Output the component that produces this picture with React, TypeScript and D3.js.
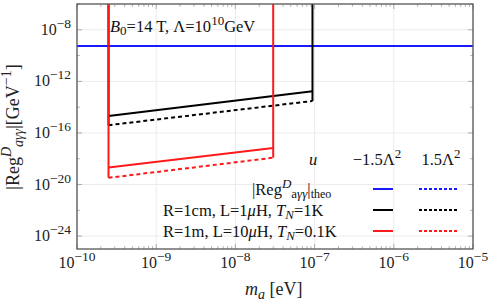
import React from 'react'
import * as d3 from 'd3'

// axion mass range [eV] and bounds for the two circuit setups
const massDomain = [1e-10, 1e-5]
const regDomain = [1e-25, 1e-6]

const xTickExps = [-10, -9, -8, -7, -6, -5]
const yTickExps = [-24, -20, -16, -12, -8]

// theoretical value (flat line)
const theoValue = 5.5e-10

// R=1cm, L=1uH, T_N=1K
const blackMass = [2.5e-10, 9.4e-8]
const blackMinus = [2.1e-15, 1.7e-13]
const blackPlus = [4.0e-16, 3.0e-14]

// R=1m, L=10uH, T_N=0.1K
const redMass = [2.5e-10, 3.0e-8]
const redMinus = [2.1e-19, 6.8e-18]
const redPlus = [3.3e-20, 1.2e-18]

const W = 493
const H = 303
const margin = { top: 4, right: 20, bottom: 54, left: 77 }
const FONT = '"Liberation Serif", "Times New Roman", serif'

export default function App () {
  const x = d3.scaleLog().domain(massDomain).range([margin.left, W - margin.right])
  const y = d3.scaleLog().domain(regDomain).range([H - margin.bottom, margin.top])

  const x0 = margin.left
  const x1 = W - margin.right
  const y0 = H - margin.bottom
  const y1 = margin.top

  const line = d3.line<[number, number]>()
    .x(d => x(d[0]))
    .y(d => y(d[1]))

  const pts = (ms: number[], vs: number[]) => ms.map((m, i) => [m, vs[i]] as [number, number])

  // minor ticks on x
  const xMinor: number[] = []
  for (let e = -10; e < -5; e++) {
    for (let k = 2; k <= 9; k++) xMinor.push(k * Math.pow(10, e))
  }
  const yMinor: number[] = []
  for (let e = -25; e <= -6; e++) {
    if (!yTickExps.includes(e) && e % 2 === 0) yMinor.push(Math.pow(10, e))
  }

  const sets = [
    { color: '#000', mass: blackMass, minus: blackMinus, plus: blackPlus },
    { color: '#ff1a1a', mass: redMass, minus: redMinus, plus: redPlus }
  ]

  const legendRows = [
    { color: '#1a1aff', y: 190 },
    { color: '#000', y: 211 },
    { color: '#ff1a1a', y: 232 }
  ]

  return (
    <svg width={W} height={H} style={{ position: 'absolute', left: 0, top: 0, fontFamily: FONT }}>
      <rect width={W} height={H} fill='#fff' />
      <defs>
        <clipPath id='plot'>
          <rect x={x0} y={y1} width={x1 - x0} height={y0 - y1} />
        </clipPath>
      </defs>

      {/* grid */}
      {xTickExps.map(e => (
        <line key={'gx' + e} x1={x(Math.pow(10, e))} x2={x(Math.pow(10, e))} y1={y1} y2={y0} stroke='#ebebeb' strokeWidth={1} />
      ))}
      {yTickExps.map(e => (
        <line key={'gy' + e} x1={x0} x2={x1} y1={y(Math.pow(10, e))} y2={y(Math.pow(10, e))} stroke='#ebebeb' strokeWidth={1} />
      ))}

      {/* ticks */}
      {xMinor.map((v, i) => (
        <g key={'xm' + i} stroke='#999' strokeWidth={0.7}>
          <line x1={x(v)} x2={x(v)} y1={y0} y2={y0 - 3} />
          <line x1={x(v)} x2={x(v)} y1={y1} y2={y1 + 3} />
        </g>
      ))}
      {xTickExps.map(e => (
        <g key={'xM' + e} stroke='#999' strokeWidth={0.8}>
          <line x1={x(Math.pow(10, e))} x2={x(Math.pow(10, e))} y1={y0} y2={y0 - 5} />
          <line x1={x(Math.pow(10, e))} x2={x(Math.pow(10, e))} y1={y1} y2={y1 + 5} />
        </g>
      ))}
      {yMinor.map((v, i) => (
        <g key={'ym' + i} stroke='#999' strokeWidth={0.7}>
          <line x1={x0} x2={x0 + 3} y1={y(v)} y2={y(v)} />
          <line x1={x1} x2={x1 - 3} y1={y(v)} y2={y(v)} />
        </g>
      ))}
      {yTickExps.map(e => (
        <g key={'yM' + e} stroke='#999' strokeWidth={0.8}>
          <line x1={x0} x2={x0 + 5} y1={y(Math.pow(10, e))} y2={y(Math.pow(10, e))} />
          <line x1={x1} x2={x1 - 5} y1={y(Math.pow(10, e))} y2={y(Math.pow(10, e))} />
        </g>
      ))}

      <g clipPath='url(#plot)'>
        {/* theory line */}
        <line x1={x0} x2={x1} y1={y(theoValue)} y2={y(theoValue)} stroke='#1a1aff' strokeWidth={2} />
        <line x1={x0} x2={x1} y1={y(theoValue)} y2={y(theoValue)} stroke='#1a1aff' strokeWidth={2} strokeDasharray='3 2' />

        {sets.map((s, i) => {
          const mLo = s.mass[0]
          const mHi = s.mass[s.mass.length - 1]
          const low = Math.min(s.minus[0], s.plus[0])
          const lowR = Math.min(s.minus[s.minus.length - 1], s.plus[s.plus.length - 1])
          return (
            <g key={'set' + i} fill='none' stroke={s.color} strokeWidth={2}>
              <line x1={x(mLo)} x2={x(mLo)} y1={y1 - 2} y2={y(low)} />
              <line x1={x(mHi)} x2={x(mHi)} y1={y1 - 2} y2={y(lowR)} />
              <path d={line(pts(s.mass, s.minus)) || ''} />
              <path d={line(pts(s.mass, s.plus)) || ''} strokeDasharray='4 3' />
            </g>
          )
        })}
      </g>

      {/* frame */}
      <rect x={x0} y={y1} width={x1 - x0} height={y0 - y1} fill='none' stroke='#555' strokeWidth={1.3} />

      {/* tick labels */}
      {xTickExps.map(e => (
        <text key={'xl' + e} x={x(Math.pow(10, e))} y={268} textAnchor='middle' fontSize={16} fill='#222'>
          10<tspan dy={-7} fontSize={13.5}>{'\u2212' + Math.abs(e)}</tspan>
        </text>
      ))}
      {yTickExps.map(e => (
        <text key={'yl' + e} x={71} y={y(Math.pow(10, e)) + 5} textAnchor='end' fontSize={16} fill='#222'>
          10<tspan dy={-7} fontSize={13.5}>{'\u2212' + Math.abs(e)}</tspan>
        </text>
      ))}

      {/* axis labels */}
      <text x={245} y={295} fontSize={18} fill='#222'>
        <tspan fontStyle='italic'>m</tspan><tspan dy={4} fontSize={14} fontStyle='italic'>a</tspan><tspan dy={-4}> [eV]</tspan>
      </text>
      <text transform='translate(19,127) rotate(-90)' textAnchor='middle' fontSize={18} fill='#222'>
        |Reg<tspan dy={-8} fontSize={14} fontStyle='italic'>D</tspan><tspan dy={12} fontSize={14} fontStyle='italic'>a{'\u03b3\u03b3'}</tspan><tspan dy={-4}>|[GeV</tspan><tspan dy={-8} fontSize={14}>{'\u22121'}</tspan><tspan dy={8}>]</tspan>
      </text>

      {/* annotation */}
      <text x={110} y={32} fontSize={16.5} fill='#111'>
        <tspan fontStyle='italic'>B</tspan><tspan dy={3} fontSize={13}>0</tspan><tspan dy={-3}>=14 T, {'\u039b'}=10</tspan><tspan dy={-7} fontSize={13}>10</tspan><tspan dy={7}>GeV</tspan>
      </text>

      {/* legend */}
      <g fontSize={16.5} fill='#111'>
        <text x={313} y={165} textAnchor='middle' fontStyle='italic'>u</text>
        <text x={377} y={165} textAnchor='middle'>{'\u22121.5\u039b'}<tspan dy={-7} fontSize={13}>2</tspan></text>
        <text x={441} y={165} textAnchor='middle'>{'1.5\u039b'}<tspan dy={-7} fontSize={13}>2</tspan></text>

        <text x={252} y={195}>|Reg<tspan dy={-7} fontSize={13} fontStyle='italic'>D</tspan><tspan dy={10} fontSize={13}>a<tspan fontStyle='italic'>{'\u03b3\u03b3'}</tspan></tspan><tspan dy={-3}>|</tspan><tspan dy={3} fontSize={12}>theo</tspan></text>
        <text x={163} y={216}>R=1cm, L=1<tspan fontStyle='italic'>{'\u03bc'}</tspan>H, <tspan fontStyle='italic'>T</tspan><tspan dy={3} fontSize={13} fontStyle='italic'>N</tspan><tspan dy={-3}>=1K</tspan></text>
        <text x={163} y={237}>R=1m, L=10<tspan fontStyle='italic'>{'\u03bc'}</tspan>H, <tspan fontStyle='italic'>T</tspan><tspan dy={3} fontSize={13} fontStyle='italic'>N</tspan><tspan dy={-3}>=0.1K</tspan></text>
      </g>
      {legendRows.map((r, i) => (
        <g key={'lg' + i} stroke={r.color} strokeWidth={2}>
          <line x1={373} x2={393} y1={r.y - 1} y2={r.y - 1} />
          <line x1={419} x2={457} y1={r.y - 1} y2={r.y - 1} strokeDasharray='3 2' />
        </g>
      ))}
    </svg>
  )
}
